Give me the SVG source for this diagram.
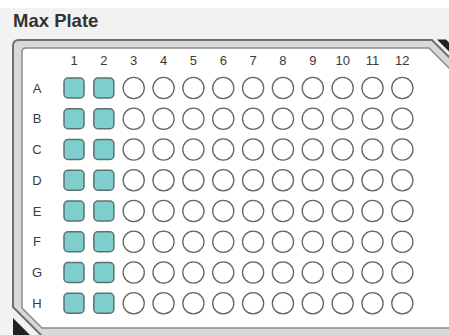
<svg xmlns="http://www.w3.org/2000/svg" width="449" height="335" viewBox="0 0 449 335">
<style>
.lbl{font-family:"Liberation Sans",Arial,sans-serif;font-size:13px;fill:#3a3a3a;text-anchor:middle}
.sq{fill:#7ecece;stroke:#5d7070;stroke-width:1.5}
.ci{fill:#fff;stroke:#666;stroke-width:1.3}
</style>
<rect x="0" y="0" width="449" height="335" fill="#f2f2f2"/>
<rect x="0" y="0" width="449" height="8" fill="#fff"/>
<g id="title"><text x="13" y="27" font-family="'Liberation Sans',Arial,sans-serif" font-size="18.5" font-weight="bold" fill="#333">Max Plate</text></g>
<g id="plate">
<polygon points="437,39.5 446,39.5 460,53.5 460,62.5" fill="#222"/>
<polygon points="13,318 13,336 31,336" fill="#222"/>
<path d="M13,46 Q13,40 19,40 H432 L470,78 V337 H43 L13,307 Z" fill="#d9d9d9" stroke="#6f6f6f" stroke-width="2"/>
<path d="M22,52 Q22,48 26,48 H429 L470,89 V328 H42 L22,308 Z" fill="#fff" stroke="#8a8a8a" stroke-width="1.5"/>
</g>
<g id="col-labels">
<text class="lbl" x="74" y="65">1</text><text class="lbl" x="103.85" y="65">2</text><text class="lbl" x="133.7" y="65">3</text><text class="lbl" x="163.55" y="65">4</text><text class="lbl" x="193.4" y="65">5</text><text class="lbl" x="223.25" y="65">6</text><text class="lbl" x="253.1" y="65">7</text><text class="lbl" x="282.95" y="65">8</text><text class="lbl" x="312.8" y="65">9</text><text class="lbl" x="342.65" y="65">10</text><text class="lbl" x="372.5" y="65">11</text><text class="lbl" x="402.35" y="65">12</text>
</g>
<g id="row-labels">
<text class="lbl" x="37" y="92.5">A</text><text class="lbl" x="37" y="123.25">B</text><text class="lbl" x="37" y="154">C</text><text class="lbl" x="37" y="184.75">D</text><text class="lbl" x="37" y="215.5">E</text><text class="lbl" x="37" y="246.25">F</text><text class="lbl" x="37" y="277">G</text><text class="lbl" x="37" y="307.75">H</text>
</g>
<defs>
<g id="wrow">
<rect class="sq" x="64" y="-10" width="20" height="20" rx="4"/>
<rect class="sq" x="93.85" y="-10" width="20" height="20" rx="4"/>
<circle class="ci" cx="133.7" cy="0" r="10.6"/>
<circle class="ci" cx="163.55" cy="0" r="10.6"/>
<circle class="ci" cx="193.4" cy="0" r="10.6"/>
<circle class="ci" cx="223.25" cy="0" r="10.6"/>
<circle class="ci" cx="253.1" cy="0" r="10.6"/>
<circle class="ci" cx="282.95" cy="0" r="10.6"/>
<circle class="ci" cx="312.8" cy="0" r="10.6"/>
<circle class="ci" cx="342.65" cy="0" r="10.6"/>
<circle class="ci" cx="372.5" cy="0" r="10.6"/>
<circle class="ci" cx="402.35" cy="0" r="10.6"/>
</g>
</defs>
<g id="row-A"><use href="#wrow" y="88"/></g>
<g id="row-B"><use href="#wrow" y="118.75"/></g>
<g id="row-C"><use href="#wrow" y="149.5"/></g>
<g id="row-D"><use href="#wrow" y="180.25"/></g>
<g id="row-E"><use href="#wrow" y="211"/></g>
<g id="row-F"><use href="#wrow" y="241.75"/></g>
<g id="row-G"><use href="#wrow" y="272.5"/></g>
<g id="row-H"><use href="#wrow" y="303.25"/></g>
</svg>
